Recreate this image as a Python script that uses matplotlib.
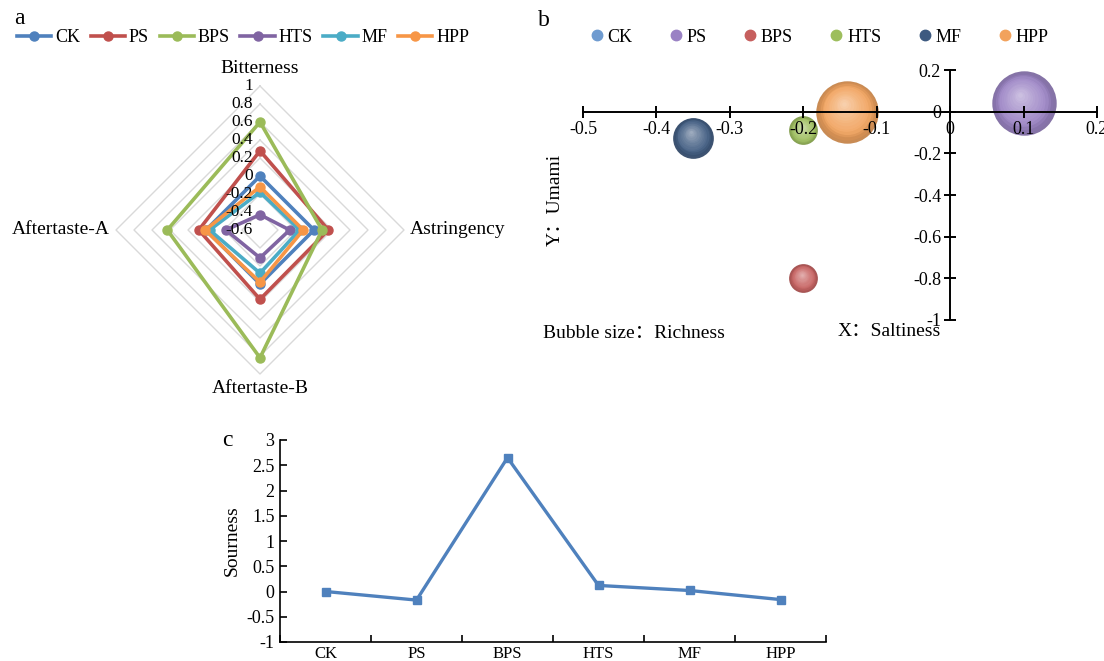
import matplotlib
matplotlib.use("Agg")
import matplotlib.pyplot as plt
import matplotlib.colors as mcols
from matplotlib.transforms import offset_copy
from matplotlib.lines import Line2D
import numpy as np

plt.rcParams['font.family'] = ['Liberation Serif', 'Noto Sans CJK SC', 'DejaVu Sans']
plt.rcParams['font.size'] = 13

GROUPS = ["CK", "PS", "BPS", "HTS", "MF", "HPP"]

# panel a: radar
ATTRS = ["Bitterness", "Astringency", "Aftertaste-B", "Aftertaste-A"]
RADAR = {
    "CK": [0.0, 0.0, 0.0, 0.0],
    "PS": [0.28, 0.16, 0.17, 0.08],
    "BPS": [0.60, 0.09, 0.82, 0.43],
    "HTS": [-0.43, -0.27, -0.29, -0.22],
    "MF": [-0.18, -0.16, -0.12, -0.04],
    "HPP": [-0.12, -0.12, -0.02, 0.01],
}
RADAR_COLORS = ["#4F81BD", "#C0504D", "#9BBB59", "#8064A2", "#4BACC6", "#F79646"]
R_MIN, R_MAX = -0.6, 1.0
R_TICKS = [-0.6, -0.4, -0.2, 0, 0.2, 0.4, 0.6, 0.8, 1]
R_TICK_LABELS = ["-0.6", "-0.4", "-0.2", "0", "0.2", "0.4", "0.6", "0.8", "1"]

# panel b: bubbles
SALTINESS = [0.0, 0.10, -0.20, -0.20, -0.35, -0.14]
UMAMI = [0.0, 0.04, -0.80, -0.09, -0.125, 0.0]
RICHNESS = [0.0, 0.50, 0.10, 0.10, 0.20, 0.47]
BUBBLE_COLORS = ["#6F9BD0", "#9A82C4", "#C65F5E", "#9DBE5C", "#3E5A80", "#F2A25C"]

# panel c: sourness
SOURNESS = [0.0, -0.17, 2.65, 0.12, 0.02, -0.16]

W, H = 1104, 661
fig = plt.figure(figsize=(W / 100, H / 100), dpi=100)


def frac(x0, y0, x1, y1):
    return [x0 / W, 1 - y1 / H, (x1 - x0) / W, (y1 - y0) / H]


# ---------------- a ----------------
cx, cy, half = 260, 230, 170
ax_a = fig.add_axes(frac(cx - half, cy - half, cx + half, cy + half))
lim = (R_MAX - R_MIN) * half / 144
ax_a.set_xlim(-lim, lim)
ax_a.set_ylim(-lim, lim)
ax_a.axis("off")

angles = np.deg2rad([90, 0, -90, 180])
for lev in R_TICKS[1:]:
    r = lev - R_MIN
    xs = np.append(r * np.cos(angles), r * np.cos(angles[0]))
    ys = np.append(r * np.sin(angles), r * np.sin(angles[0]))
    ax_a.plot(xs, ys, color="#D9D9D9", lw=1.0, zorder=1)

for i, g in enumerate(GROUPS):
    r = np.array(RADAR[g]) - R_MIN
    xs = np.append(r * np.cos(angles), r[0] * np.cos(angles[0]))
    ys = np.append(r * np.sin(angles), r[0] * np.sin(angles[0]))
    ax_a.plot(xs, ys, color=RADAR_COLORS[i], lw=2.6, marker="o", ms=6.5,
              markevery=[0, 1, 2, 3], zorder=3)

for lev, lab in zip(R_TICKS, R_TICK_LABELS):
    ax_a.text(-0.08, lev - R_MIN, lab, ha="right", va="center", fontsize=12.5, zorder=4)

top = R_MAX - R_MIN
ax_a.text(0, top + 0.1, ATTRS[0], ha="center", va="bottom", fontsize=14)
ax_a.text(top + 0.07, 0, ATTRS[1], ha="left", va="center", fontsize=14)
ax_a.text(0, -top - 0.07, ATTRS[2], ha="center", va="top", fontsize=14)
ax_a.text(-top - 0.07, 0, ATTRS[3], ha="right", va="center", fontsize=14)

handles_a = [Line2D([], [], color=c, lw=2.6, marker="o", ms=6.5) for c in RADAR_COLORS]
fig.legend(handles_a, GROUPS, loc="center", bbox_to_anchor=(243 / W, 1 - 38 / H),
           ncol=6, frameon=False, fontsize=13, handlelength=1.9, handletextpad=0.2,
           columnspacing=0.6, borderpad=0, borderaxespad=0)
fig.text(14 / W, 1 - 18 / H, "a", fontsize=17, va="center")

# ---------------- b ----------------
ax_b = fig.add_axes(frac(583, 70, 1097, 320))
ax_b.set_xlim(-0.5, 0.2)
ax_b.set_ylim(-1.0, 0.2)
for s in ["top", "right"]:
    ax_b.spines[s].set_visible(False)
ax_b.spines["left"].set_position(("data", 0))
ax_b.spines["bottom"].set_position(("data", 0))
ax_b.spines["left"].set_linewidth(1.4)
ax_b.spines["bottom"].set_linewidth(1.4)
ax_b.set_xticks(np.arange(-0.5, 0.21, 0.1))
ax_b.set_xticklabels(["-0.5", "-0.4", "-0.3", "-0.2", "-0.1", "0", "0.1", "0.2"])
ax_b.set_yticks(np.arange(-1.0, 0.21, 0.2))
ax_b.set_yticklabels(["-1", "-0.8", "-0.6", "-0.4", "-0.2", "0", "0.2"])
ax_b.tick_params(direction="inout", length=9, width=1.4, labelsize=13, pad=2)
ax_b.patch.set_alpha(0)

size_k = 4300
layers = 14
for i in range(len(GROUPS)):
    s0 = RICHNESS[i] * size_k
    if s0 <= 0:
        continue
    base = np.array(mcols.to_rgb(BUBBLE_COLORS[i]))
    rad = np.sqrt(s0) / 2
    for k in range(layers):
        t = k / layers
        col = base * (1 - 0.55 * t ** 1.3) + 0.55 * t ** 1.3
        dark = 0.82 + 0.18 * min(1, t * 4)
        col = np.clip(col * dark, 0, 1)
        tr = offset_copy(ax_b.transData, fig=fig, x=-0.12 * rad * t, y=0.28 * rad * t, units="points")
        ax_b.scatter(SALTINESS[i], UMAMI[i], s=s0 * (1 - t) ** 2, color=col,
                     transform=tr, linewidths=0, zorder=1, alpha=0.95)

handles_b = [Line2D([], [], ls="", marker="o", ms=7.5, mfc=c, mec=c) for c in BUBBLE_COLORS]
fig.legend(handles_b, GROUPS, loc="center", bbox_to_anchor=(820 / W, 1 - 37 / H),
           ncol=6, frameon=False, fontsize=13, handlelength=0.6, handletextpad=0.3,
           columnspacing=2.1, borderpad=0, borderaxespad=0)
fig.text(538 / W, 1 - 20 / H, "b", fontsize=17, va="center")
fig.text(555 / W, 1 - 200 / H, "Y：Umami", rotation=90, ha="center", va="center", fontsize=14)
fig.text(543 / W, 1 - 333 / H, "Bubble size：Richness", ha="left", va="center", fontsize=14)
fig.text(838 / W, 1 - 331 / H, "X：Saltiness", ha="left", va="center", fontsize=14)

# ---------------- c ----------------
ax_c = fig.add_axes(frac(280, 440, 826, 642))
xs = np.arange(len(GROUPS))
ax_c.plot(xs, SOURNESS, color="#4F81BD", lw=2.4, marker="s", ms=5.5)
ax_c.set_xlim(-0.5, len(GROUPS) - 0.5)
ax_c.set_ylim(-1, 3)
ax_c.set_yticks(np.arange(-1, 3.01, 0.5))
ax_c.set_yticklabels(["-1", "-0.5", "0", "0.5", "1", "1.5", "2", "2.5", "3"])
ax_c.set_xticks(np.arange(-0.5, len(GROUPS)), minor=False)
ax_c.set_xticklabels([])
ax_c.set_xticks(xs, minor=True)
ax_c.set_xticklabels(GROUPS, minor=True)
ax_c.tick_params(axis="x", which="major", direction="in", length=5, width=1.2)
ax_c.tick_params(axis="x", which="minor", length=0, labelsize=12, pad=3)
ax_c.tick_params(axis="y", direction="in", length=5, width=1.2, labelsize=13, pad=4)
for s in ["top", "right"]:
    ax_c.spines[s].set_visible(False)
ax_c.spines["left"].set_linewidth(1.2)
ax_c.spines["bottom"].set_linewidth(1.2)
ax_c.set_ylabel("Sourness", fontsize=14, labelpad=4)
fig.text(222 / W, 1 - 440 / H, "c", fontsize=17, va="center")

fig.savefig("out.png", dpi=100)
